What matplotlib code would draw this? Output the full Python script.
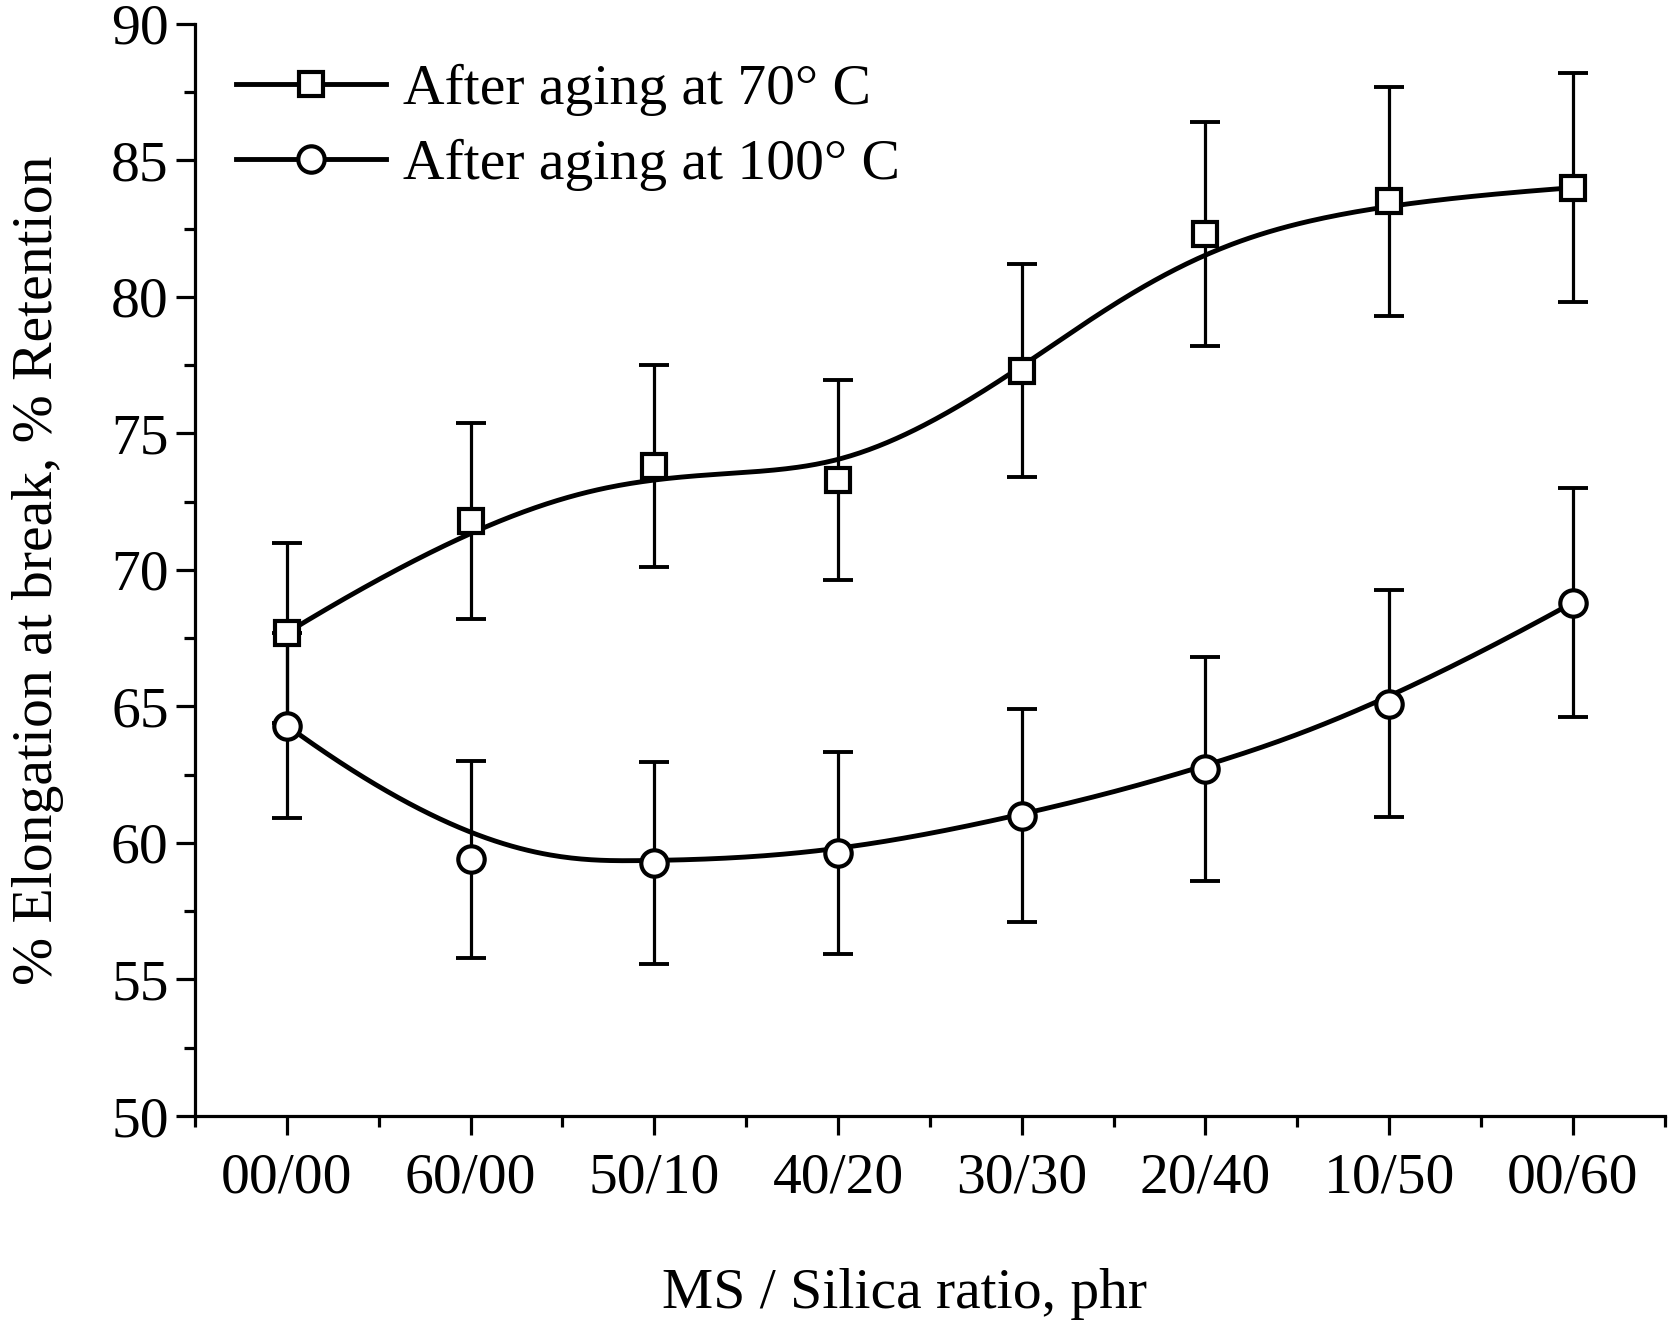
import numpy as np
import matplotlib
matplotlib.use("Agg")
import matplotlib.pyplot as plt

categories = ["00/00", "60/00", "50/10", "40/20", "30/30", "20/40", "10/50", "00/60"]
ret_70 = [67.7, 71.8, 73.8, 73.3, 77.3, 82.3, 83.5, 84.0]
err_70 = [3.3, 3.6, 3.7, 3.65, 3.9, 4.1, 4.2, 4.2]
ret_100 = [64.3, 59.4, 59.25, 59.65, 61.0, 62.7, 65.1, 68.8]
err_100 = [3.4, 3.6, 3.7, 3.7, 3.9, 4.1, 4.15, 4.2]
labels = ["After aging at 70° C", "After aging at 100° C"]

plt.rcParams["font.family"] = ["Liberation Serif", "DejaVu Serif"]
plt.rcParams["mathtext.fontset"] = "stix"

FS = 41.5


def bspline(xs, ys, n=400, k=3):
    """Clamped uniform cubic B-spline using the points as control points."""
    pts = np.column_stack([xs, ys]).astype(float)
    m = len(pts)
    inner = np.arange(1, m - k)
    knots = np.concatenate([np.zeros(k + 1), inner, np.full(k + 1, m - k)]).astype(float)
    ts = np.linspace(0, m - k, n)
    ts[-1] -= 1e-9

    def basis(i, p, t):
        if p == 0:
            return ((knots[i] <= t) & (t < knots[i + 1])).astype(float)
        out = np.zeros_like(t)
        d1 = knots[i + p] - knots[i]
        d2 = knots[i + p + 1] - knots[i + 1]
        if d1 > 0:
            out += (t - knots[i]) / d1 * basis(i, p - 1, t)
        if d2 > 0:
            out += (knots[i + p + 1] - t) / d2 * basis(i + 1, p - 1, t)
        return out

    B = np.array([basis(i, k, ts) for i in range(m)])
    curve = B.T @ pts
    return curve[:, 0], curve[:, 1]


fig = plt.figure(figsize=(16.73, 13.27), dpi=100)
ax = fig.add_axes([0.1166, 0.159, 0.8784, 0.823])

x = np.arange(len(categories))

for vals, errs, mk, lab in [(ret_70, err_70, "s", labels[0]), (ret_100, err_100, "o", labels[1])]:
    cx, cy = bspline(x, vals)
    ax.plot(cx, cy, color="black", lw=3.5, zorder=2)
    ax.errorbar(x, vals, yerr=errs, fmt="none", ecolor="black", elinewidth=2.3,
                capsize=11, capthick=2.8, zorder=1)
    ms = 17 if mk == "s" else 19
    ax.plot(x, vals, linestyle="none", marker=mk, markersize=ms,
            markerfacecolor="white", markeredgecolor="black", markeredgewidth=3.0, zorder=3)
    ax.plot([], [], color="black", lw=3.5, marker=mk, markersize=ms,
            markerfacecolor="white", markeredgecolor="black", markeredgewidth=3.0, label=lab)

ax.set_xlim(-0.5, 7.5)
ax.set_ylim(50, 90)
ax.set_xticks(x)
ax.set_xticklabels(categories)
ax.set_xticks(np.arange(-0.5, 7.6, 1.0), minor=True)
ax.set_yticks(np.arange(50, 91, 5))
ax.set_yticks(np.arange(52.5, 90, 5), minor=True)

for s in ["top", "right"]:
    ax.spines[s].set_visible(False)
for s in ["left", "bottom"]:
    ax.spines[s].set_linewidth(2.3)

ax.tick_params(axis="both", which="major", direction="out", length=14, width=2.3,
               labelsize=FS)
ax.tick_params(axis="x", which="major", pad=12)
ax.tick_params(axis="y", which="major", pad=5)
ax.tick_params(axis="both", which="minor", direction="out", length=8, width=2.3)

ax.set_xlabel("MS / Silica ratio, phr", fontsize=FS, labelpad=46)
ax.xaxis.label.set_x(0.483)
ax.set_ylabel("% Elongation at break, % Retention", fontsize=FS, labelpad=34)

ax.legend(loc="upper left", bbox_to_anchor=(0.008, 0.99), frameon=False, fontsize=FS,
          handlelength=2.6, handletextpad=0.3, labelspacing=0.4, borderaxespad=0.2,
          borderpad=0.3)

fig.savefig("out.png", dpi=100)
